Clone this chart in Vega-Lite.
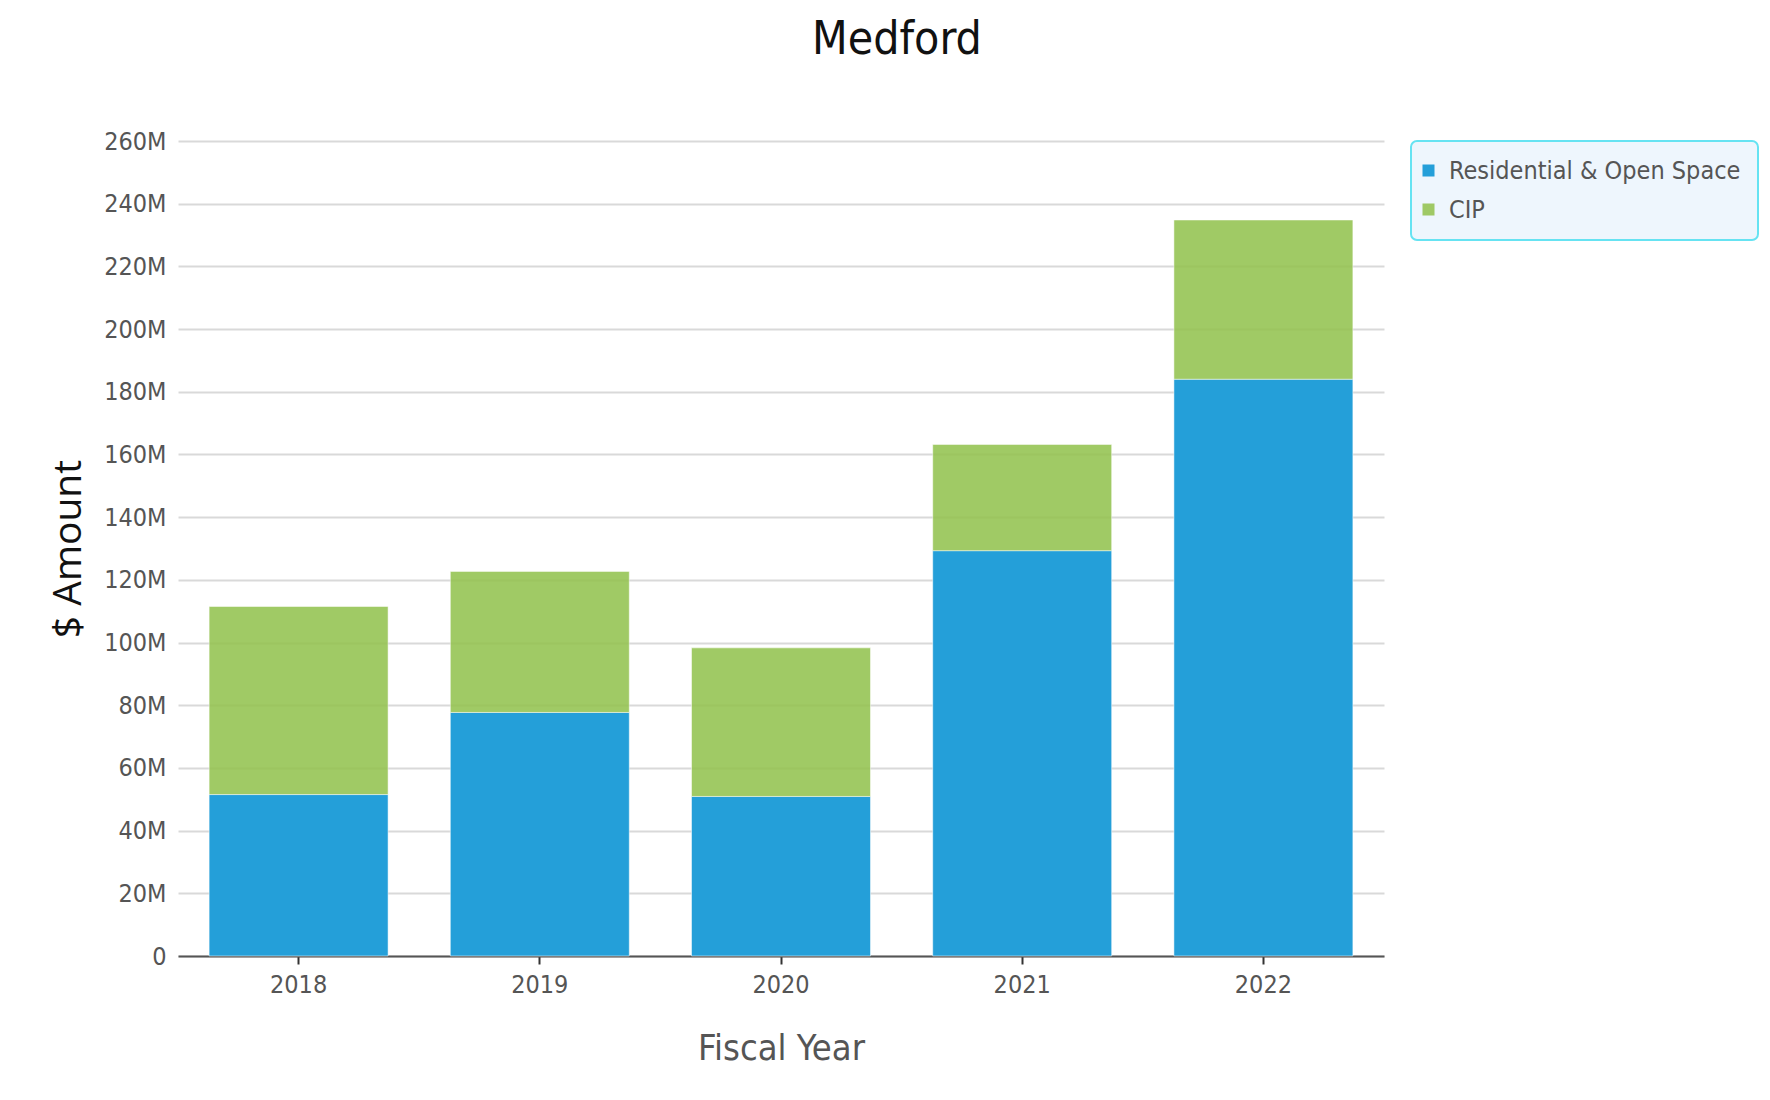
{
  "$schema": "https://vega.github.io/schema/vega-lite/v6.json",
  "autosize": {"type": "none"},
  "width": 1206,
  "height": 815,
  "padding": {"left": 178, "top": 141, "right": 386, "bottom": 144},
  "background": "#ffffff",
  "title": {
    "text": "Medford",
    "font": "DejaVu Sans Condensed, sans-serif",
    "fontSize": 46,
    "fontWeight": "normal",
    "color": "#111111",
    "anchor": "middle",
    "dx": 116,
    "offset": 65
  },
  "data": {
    "values": [
      {"Year": "2018", "Category": "Residential & Open Space", "Amount": 51500000},
      {"Year": "2018", "Category": "CIP", "Amount": 60000000},
      {"Year": "2019", "Category": "Residential & Open Space", "Amount": 77700000},
      {"Year": "2019", "Category": "CIP", "Amount": 45000000},
      {"Year": "2020", "Category": "Residential & Open Space", "Amount": 50900000},
      {"Year": "2020", "Category": "CIP", "Amount": 47400000},
      {"Year": "2021", "Category": "Residential & Open Space", "Amount": 129300000},
      {"Year": "2021", "Category": "CIP", "Amount": 33900000},
      {"Year": "2022", "Category": "Residential & Open Space", "Amount": 184000000},
      {"Year": "2022", "Category": "CIP", "Amount": 50800000}
    ]
  },
  "mark": {"type": "bar", "stroke": "#ffffff", "strokeOpacity": 0.5, "strokeWidth": 1},
  "encoding": {
    "x": {
      "field": "Year",
      "type": "ordinal",
      "scale": {"paddingInner": 0.258, "paddingOuter": 0.129},
      "axis": {
        "title": "Fiscal Year",
        "labelAngle": 0,
        "labelFont": "DejaVu Sans Condensed, sans-serif",
        "labelFontSize": 25,
        "labelColor": "#555555",
        "labelPadding": 8,
        "ticks": true,
        "tickSize": 8,
        "tickColor": "#333333",
        "tickWidth": 2,
        "domainColor": "#555555",
        "domainWidth": 2,
        "titleFont": "DejaVu Sans Condensed, sans-serif",
        "titleFontSize": 36,
        "titleFontWeight": "normal",
        "titleColor": "#555555",
        "titlePadding": 34
      }
    },
    "y": {
      "field": "Amount",
      "type": "quantitative",
      "stack": "zero",
      "scale": {"domain": [0, 260000000], "nice": false},
      "axis": {
        "title": "$ Amount",
        "values": [0, 20000000, 40000000, 60000000, 80000000, 100000000, 120000000, 140000000, 160000000, 180000000, 200000000, 220000000, 240000000, 260000000],
        "labelExpr": "datum.value == 0 ? '0' : format(datum.value / 1000000, 'd') + 'M'",
        "labelFont": "DejaVu Sans Condensed, sans-serif",
        "labelFontSize": 25,
        "labelColor": "#555555",
        "labelPadding": 12,
        "ticks": false,
        "domain": false,
        "grid": true,
        "gridColor": "#d9d9d9",
        "gridWidth": 2,
        "titleFont": "Open Sans, sans-serif",
        "titleFontSize": 39,
        "titleFontWeight": "normal",
        "titleColor": "#111111",
        "titlePadding": 15
      }
    },
    "color": {
      "field": "Category",
      "type": "nominal",
      "scale": {"domain": ["Residential & Open Space", "CIP"], "range": ["#249fd9", "#94c350"]},
      "legend": {
        "title": null,
        "orient": "none",
        "legendX": 1233,
        "legendY": 0,
        "fillColor": "#eef6fd",
        "strokeColor": "#66e3f2",
        "cornerRadius": 6,
        "padding": 17,
        "symbolType": "square",
        "symbolSize": 144,
        "symbolStrokeWidth": 0,
        "symbolOffset": -12,
        "labelFont": "DejaVu Sans Condensed, sans-serif",
        "labelFontSize": 25,
        "labelColor": "#555555",
        "labelOffset": 8,
        "rowPadding": 13,
        "labelLimit": 400
      }
    },
    "opacity": {
      "field": "Category",
      "type": "nominal",
      "scale": {"domain": ["Residential & Open Space", "CIP"], "range": [1, 0.88]},
      "legend": null
    },
    "order": {"field": "Category", "sort": "descending"}
  },
  "config": {
    "view": {"stroke": null},
    "legend": {"strokeWidth": 2}
  }
}
